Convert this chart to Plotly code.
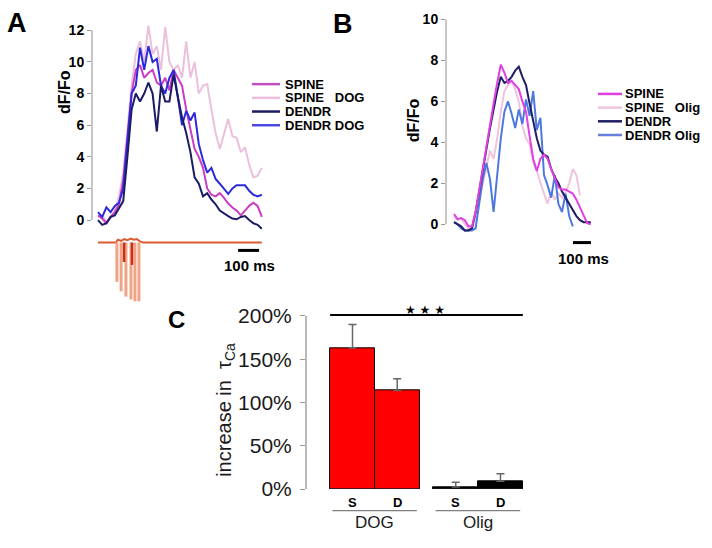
import plotly.graph_objects as go

W, H = 712, 548
FONT = "Arial, 'Liberation Sans', sans-serif"


def fx(p):
    return p / W


def fy(p):
    return 1 - p / H


# ---------------- data: panel A (dF/Fo, DOG) ----------------
time_a_ms = list(range(0, 781, 20))
a_spine = [0.3, 0.1, -0.2, 0.2, 0.5, 1.0, 2.5, 5.5, 8.0, 9.5, 9.8, 9.0, 9.3, 9.5, 8.7, 8.5,
           9.0, 8.2, 9.5, 9.0, 8.5, 7.0, 5.8, 4.5, 4.0, 3.3, 2.0, 1.6, 1.5, 1.7, 1.4, 1.05,
           0.8, 0.6, 0.3, 0.6, 0.9, 1.1, 0.9, 0.2]
a_spine_dog = [0.2, 0.3, -0.1, 0.1, 0.6, 1.5, 3.0, 6.0, 8.5, 10.5, 11.3, 10.0, 12.3, 10.5, 11.0, 9.5,
               12.2, 10.0, 9.5, 9.8, 9.0, 11.3, 9.0, 10.0, 8.0, 8.5, 8.6, 7.0, 5.5, 4.5, 5.5, 6.4,
               5.3, 5.2, 4.3, 4.6, 3.5, 2.7, 2.8, 3.3]
a_dendr = [0.0, -0.3, -0.2, 0.2, 0.3, 0.8, 1.2, 4.0, 7.0, 8.0, 7.5, 8.0, 8.7, 8.0, 5.6, 8.5,
           7.5, 7.5, 9.2, 7.8, 6.5, 5.5, 4.3, 2.7, 2.3, 1.5, 1.7, 1.3, 1.0, 0.6, 0.4, 0.25,
           0.1, 0.05, 0.2, 0.25, 0.0, -0.2, -0.3, -0.55]
a_dendr_dog = [0.5, 0.2, 0.8, 0.5, 0.9, 1.1, 2.0, 5.0, 8.0, 8.5, 10.9, 9.5, 11.0, 10.0, 10.2, 8.5,
               8.0, 9.0, 9.5, 7.8, 6.0, 6.9, 6.3, 6.8, 4.8, 3.8, 3.0, 3.3, 2.6, 2.3, 2.0, 1.65,
               2.0, 2.2, 2.2, 2.2, 1.85, 1.6, 1.5, 1.6]

# stimulus (normalised current) under panel A
stim_baseline_ms = [0, 85, 95, 110, 125, 140, 155, 170, 185, 200, 215, 780]
stim_baseline = [0, 0, 0.05, 0.03, 0.06, 0.04, 0.07, 0.05, 0.06, 0.02, 0, 0]
stim_light_ms = [90, 110, 133, 157, 176, 195]
stim_light_depth = [-0.67, -0.83, -0.92, -0.97, -1.0, -1.0]
stim_dark_ms = [124, 162]
stim_dark_depth = [-0.33, -0.38]

# ---------------- data: panel B (dF/Fo, Olig) ----------------
time_b_ms = list(range(0, 761, 20))
b_spine = [0.5, 0.25, 0.3, 0.2, -0.1, -0.1, 0.6, 1.7, 2.8, 3.8, 4.9, 5.9, 6.9, 7.8, 7.4, 6.9,
           7.0, 6.8, 6.6, 6.0, 5.5, 4.3, 3.2, 2.6, 3.2, 3.4, 3.2, 2.7, 2.2, 1.8, 1.7, 1.7,
           1.6, 1.5, 1.2, 0.8, 0.4, 0.05, 0.0]
b_spine_olig = [0.4, 0.2, 0.3, 0.0, -0.2, -0.2, 0.4, 1.2, 2.0, 2.8, 3.6, 3.2, 4.2, 5.5, 6.5, 6.8,
                7.0, 6.6, 6.0, 4.8, 4.2, 3.9, 3.0, 2.6, 2.0, 1.5, 1.0, 1.6, 1.2, 1.5, 1.3, 1.6,
                2.0, 2.7, 2.4, 1.4, None, None, None]
b_dendr = [0.1, 0.0, -0.1, -0.3, -0.3, -0.2, 0.6, 1.6, 2.7, 3.7, 4.7, 5.6, 6.5, 7.2, 6.9, 7.0,
           7.2, 7.5, 7.7, 7.2, 6.8, 5.9, 5.1, 4.2, 3.6, 3.4, 3.3, 2.7, 2.3, 2.0, 1.6, 1.3,
           1.0, 0.7, 0.4, 0.2, 0.1, 0.1, 0.1]
b_dendr_olig = [0.1, 0.0, -0.2, -0.3, -0.3, -0.3, -0.2, 1.0, 2.2, 3.0, 2.2, 0.6, 2.5, 4.2, 5.5, 6.0,
                5.4, 4.7, 5.6, 4.9, 6.1, 5.3, 6.5, 4.6, 5.2, 2.4, 1.9, 1.3, 2.4, 1.0, 0.6, 1.5,
                0.4, -0.1, None, None, None, None, None]

# ---------------- data: panel C (increase in tau_Ca) ----------------
groups = ["DOG", "Olig"]
sites = ["S", "D"]
dog_increase = [163, 114]
dog_sem = [27, 13.5]
olig_increase = [2.5, 9]
olig_sem = [5.5, 8.7]
c_ticks = [0, 50, 100, 150, 200]
c_ticktext = ["0%", "50%", "100%", "150%", "200%"]
dff_ticks_a = [0, 2, 4, 6, 8, 10, 12]
dff_ticks_b = [0, 2, 4, 6, 8, 10]

fig = go.Figure()

# panel A traces (light pink drawn first)
series_a = [
    ("SPINE DOG", a_spine_dog, "#ecc0dc"),
    ("SPINE", a_spine, "#cc3cc4"),
    ("DENDR DOG", a_dendr_dog, "#2a2adc"),
    ("DENDR", a_dendr, "#1c1c66"),
]
legend_a = [("SPINE", "#c050c0"), ("SPINE\u00a0\u00a0\u00a0DOG", "#ecc0dc"),
            ("DENDR", "#1c1c66"), ("DENDR DOG", "#4a4ae0")]
for name, vals, col in series_a:
    fig.add_trace(go.Scatter(x=time_a_ms, y=vals, mode="lines", name=name,
                             line=dict(color=col, width=2), xaxis="x", yaxis="y"))

# stimulus
fig.add_trace(go.Scatter(x=stim_baseline_ms, y=stim_baseline, mode="lines",
                         line=dict(color="#dc5a30", width=2), xaxis="x2", yaxis="y2"))
sx, sy = [], []
for t, d in zip(stim_light_ms, stim_light_depth):
    sx += [t, t, None]
    sy += [0, d, None]
fig.add_trace(go.Scatter(x=sx, y=sy, mode="lines", line=dict(color="#f0a486", width=3),
                         xaxis="x2", yaxis="y2"))
dx, dy = [], []
for t, d in zip(stim_dark_ms, stim_dark_depth):
    dx += [t, t, None]
    dy += [0, d, None]
fig.add_trace(go.Scatter(x=dx, y=dy, mode="lines", line=dict(color="#c83018", width=2.5),
                         xaxis="x2", yaxis="y2"))

# panel B
series_b = [
    ("SPINE Olig", b_spine_olig, "#f0c4dc"),
    ("DENDR Olig", b_dendr_olig, "#4c78e0"),
    ("DENDR", b_dendr, "#1e1e66"),
    ("SPINE", b_spine, "#e040e0"),
]
legend_b = [("SPINE", "#e040e0"), ("SPINE\u00a0\u00a0\u00a0Olig", "#f0c4dc"),
            ("DENDR", "#1e1e66"), ("DENDR Olig", "#6a7ee0")]
for name, vals, col in series_b:
    fig.add_trace(go.Scatter(x=time_b_ms, y=vals, mode="lines", name=name,
                             line=dict(color=col, width=2), xaxis="x3", yaxis="y3"))

# panel C bars
GAP = 0.31
bar_colors = {"DOG": "#ff0000", "Olig": "#000000"}
group_vals = {"DOG": (dog_increase, dog_sem), "Olig": (olig_increase, olig_sem)}
positions = {}
for gi, g in enumerate(groups):
    pos = [gi * (len(sites) + GAP) + si for si in range(len(sites))]
    positions[g] = pos
    vals, sem = group_vals[g]
    fig.add_trace(go.Bar(x=pos, y=vals, width=1, base=0,
                         marker=dict(color=bar_colors[g], line=dict(color="black", width=1)),
                         error_y=dict(type="data", array=sem, arrayminus=[0] * len(sem),
                                      symmetric=False, color="#666666", thickness=1.5, width=4),
                         xaxis="x4", yaxis="y4"))

tickfont_bold = dict(family=FONT, size=14, color="black", weight="bold")
axis_common = dict(showgrid=False, zeroline=False, showline=False, ticks="outside",
                   ticklen=4, tickcolor="#9a9a9a", tickwidth=1.2)

fig.update_layout(
    width=W, height=H, autosize=False,
    margin=dict(l=0, r=0, t=0, b=0),
    paper_bgcolor="white", plot_bgcolor="rgba(0,0,0,0)",
    showlegend=False, bargap=0,
    xaxis=dict(domain=[fx(92), fx(268)], range=[-28.6, 809.5], visible=False, anchor="y"),
    yaxis=dict(domain=[fy(240), fy(18)], range=[-0.99, 12.74], anchor="x",
               tickvals=dff_ticks_a, tickfont=tickfont_bold, **axis_common),
    xaxis2=dict(domain=[fx(92), fx(268)], range=[-28.6, 809.5], visible=False, anchor="y2"),
    yaxis2=dict(domain=[fy(316), fy(240)], range=[-1.15, 0.117], visible=False, anchor="x2"),
    xaxis3=dict(domain=[fx(446), fx(600)], range=[-44.4, 811.1], visible=False, anchor="y3"),
    yaxis3=dict(domain=[fy(240), fy(12)], range=[-0.56, 10.33], anchor="x3",
                tickvals=dff_ticks_b, tickfont=tickfont_bold, **axis_common),
    xaxis4=dict(domain=[fx(306), fx(530)], range=[-1.04, 3.97], visible=False, anchor="y4"),
    yaxis4=dict(domain=[fy(499), fy(305)], range=[0, 219.2], anchor="x4",
                tickvals=c_ticks, ticktext=c_ticktext, ticklabelstandoff=4,
                tickfont=dict(family=FONT, size=21, color="#1a1a1a"),
                showgrid=False, zeroline=False, showline=False, ticks="outside",
                ticklen=5, tickcolor="#9a9a9a", tickwidth=1.2),
)

shapes = []
ann = []

# axis lines
shapes.append(dict(type="line", xref="paper", yref="y", x0=fx(92), x1=fx(92), y0=0, y1=12,
                   line=dict(color="#a0a0a0", width=1.2)))
shapes.append(dict(type="line", xref="paper", yref="y3", x0=fx(446), x1=fx(446), y0=0, y1=10,
                   line=dict(color="#a0a0a0", width=1.2)))
shapes.append(dict(type="line", xref="paper", yref="y4", x0=fx(306), x1=fx(306), y0=0, y1=200,
                   line=dict(color="#8a8a8a", width=1.2)))

# scale bars (100 ms)
shapes.append(dict(type="line", xref="x2", yref="paper", x0=667, x1=767, y0=fy(255), y1=fy(255),
                   line=dict(color="black", width=3)))
shapes.append(dict(type="line", xref="x3", yref="paper", x0=661, x1=761, y0=fy(247), y1=fy(247),
                   line=dict(color="black", width=3)))
ann.append(dict(x=fx(249), y=fy(270), xref="paper", yref="paper", text="100 ms", showarrow=False,
                font=dict(family=FONT, size=15, color="black", weight="bold"),
                xanchor="center", yanchor="middle"))
ann.append(dict(x=fx(583), y=fy(263), xref="paper", yref="paper", text="100 ms", showarrow=False,
                font=dict(family=FONT, size=15, color="black", weight="bold"),
                xanchor="center", yanchor="middle"))

# legends
for i, (name, col) in enumerate(legend_a):
    yy = 85 + i * 14
    shapes.append(dict(type="line", xref="paper", yref="paper", x0=fx(252), x1=fx(280),
                       y0=fy(yy), y1=fy(yy), line=dict(color=col, width=2.5)))
    ann.append(dict(x=fx(284), y=fy(yy), xref="paper", yref="paper", text=name, showarrow=False,
                    font=dict(family=FONT, size=13, color="black", weight="bold"),
                    xanchor="left", yanchor="middle", borderpad=0))
for i, (name, col) in enumerate(legend_b):
    yy = 95 + i * 14
    shapes.append(dict(type="line", xref="paper", yref="paper", x0=fx(598), x1=fx(622),
                       y0=fy(yy), y1=fy(yy), line=dict(color=col, width=2.5)))
    ann.append(dict(x=fx(624), y=fy(yy), xref="paper", yref="paper", text=name, showarrow=False,
                    font=dict(family=FONT, size=13, color="black", weight="bold"),
                    xanchor="left", yanchor="middle", borderpad=0))

# y titles
ann.append(dict(x=fx(65), y=fy(93), xref="paper", yref="paper", text="dF/Fo", textangle=-90,
                showarrow=False, font=dict(family=FONT, size=16, color="black", weight="bold"),
                xanchor="center", yanchor="middle"))
ann.append(dict(x=fx(413), y=fy(122), xref="paper", yref="paper", text="dF/Fo", textangle=-90,
                showarrow=False, font=dict(family=FONT, size=16, color="black", weight="bold"),
                xanchor="center", yanchor="middle"))
ann.append(dict(x=fx(226), y=fy(418), xref="paper", yref="paper",
                text="increase in\u00a0\u00a0τ<sub>Ca</sub>", textangle=-90,
                showarrow=False, font=dict(family=FONT, size=20, color="#1a1a1a"),
                xanchor="center", yanchor="middle"))

# panel letters
for letter, (lx, ly, sz) in {"A": (17, 23, 27), "B": (343, 24, 27), "C": (176, 326, 24)}.items():
    ann.append(dict(x=fx(lx), y=fy(ly), xref="paper", yref="paper", text=letter, showarrow=False,
                    font=dict(family=FONT, size=sz, color="black", weight="bold"),
                    xanchor="center", yanchor="middle"))

# panel C: significance line and stars
all_pos = positions[groups[0]] + positions[groups[-1]]
shapes.append(dict(type="line", xref="x4", yref="y4", x0=min(all_pos) - 0.5, x1=max(all_pos) + 0.5,
                   y0=201, y1=201, line=dict(color="black", width=2)))
ann.append(dict(x=1.63, y=207, xref="x4", yref="y4", text="★\u00a0★\u00a0★",
                showarrow=False, font=dict(family="DejaVu Sans", size=12, color="black"),
                xanchor="center", yanchor="middle"))

# panel C: site labels, group lines and group labels
for g in groups:
    pos = positions[g]
    for s, p in zip(sites, pos):
        ann.append(dict(x=p, y=fy(513), xref="x4", yref="paper", text=s, showarrow=False,
                        font=dict(family=FONT, size=13, color="black", weight="bold"),
                        xanchor="center", yanchor="middle"))
    shapes.append(dict(type="line", xref="x4", yref="paper", x0=min(pos) - 0.45, x1=max(pos) + 0.44,
                       y0=fy(521), y1=fy(521), line=dict(color="#808080", width=1.2)))
    ann.append(dict(x=(min(pos) + max(pos)) / 2, y=fy(533), xref="x4", yref="paper", text=g,
                    showarrow=False, font=dict(family=FONT, size=17, color="#1a1a1a"),
                    xanchor="center", yanchor="middle"))

fig.update_layout(shapes=shapes, annotations=ann)
page_css = ("var s='margin:0;padding:0;overflow:hidden;height:548px;width:712px';"
            "document.documentElement.style.cssText=s;document.body.style.cssText=s;")
fig.write_html("out.html", config={"displayModeBar": False}, post_script=page_css)
